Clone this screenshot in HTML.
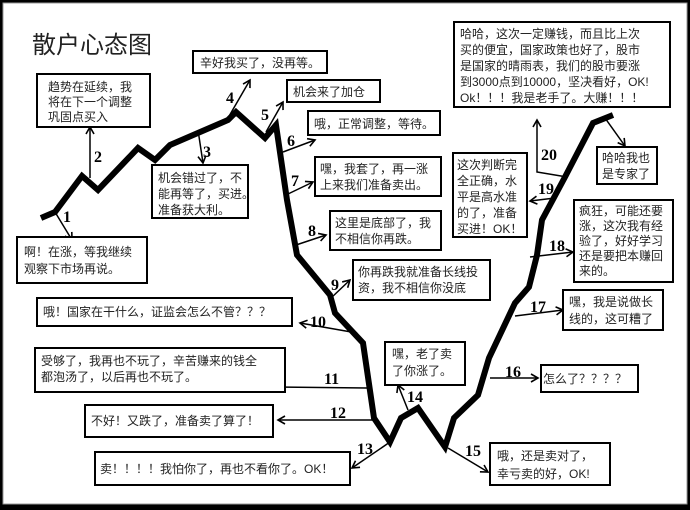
<!DOCTYPE html>
<html><head><meta charset="utf-8"><style>
html,body{margin:0;padding:0;background:#000;}
svg{display:block;}
.t{font-family:"Liberation Sans","WenQuanYi Zen Hei","Noto Sans CJK SC",sans-serif;font-size:12px;fill:#222;}
.n{font-family:"Liberation Serif",serif;font-weight:bold;font-size:16px;fill:#000;}
.b{fill:#fff;stroke:#000;stroke-width:2;}
.a{stroke:#000;stroke-width:1.5;fill:none;marker-end:url(#ar);}
</style></head><body>
<svg width="690" height="510" viewBox="0 0 690 510" xmlns="http://www.w3.org/2000/svg">
<defs><marker id="ar" markerWidth="10" markerHeight="10" refX="8" refY="5" orient="auto" markerUnits="userSpaceOnUse"><path d="M1,1 L8,5 L1,9" fill="none" stroke="#000" stroke-width="1.6"/></marker></defs>
<rect x="0" y="0" width="690" height="510" fill="#000"/>
<rect x="3" y="3" width="684" height="501" fill="#fff" stroke="#999" stroke-width="1"/>
<text x="32" y="53" style="font-family:'WenQuanYi Zen Hei','Noto Sans CJK SC',sans-serif;font-size:24px;fill:#222">散户心态图</text>
<polyline fill="none" stroke="#000" stroke-width="6" stroke-linejoin="miter" points="41,218 55,212 82,176 98,190 138,148 155,160 170,145 228,120 236,112 265,138 276,125 287,200 297,255 330,295 335,313 363,343 374,418 390,442 401,418 418,408 445,447 454,418 478,395 489,358 515,303 529,287 537,255 542,220 565,177 593,123 613,115"/>
<line class="a" x1="55" y1="212" x2="72" y2="240"/>
<line class="a" x1="90" y1="178" x2="90" y2="127"/>
<line class="a" x1="198" y1="130" x2="203" y2="163"/>
<line class="a" x1="228" y1="118" x2="250" y2="80"/>
<line class="a" x1="266" y1="132" x2="283" y2="102"/>
<line class="a" x1="283" y1="152" x2="315" y2="140"/>
<line class="a" x1="288" y1="194" x2="313" y2="182"/>
<line class="a" x1="296" y1="245" x2="326" y2="235"/>
<line class="a" x1="331" y1="298" x2="350" y2="280"/>
<line class="a" x1="357" y1="333" x2="300" y2="323"/>
<line class="a" x1="367" y1="388" x2="275" y2="387"/>
<line class="a" x1="373" y1="420" x2="278" y2="420"/>
<line class="a" x1="390" y1="442" x2="352" y2="468"/>
<line class="a" x1="408" y1="410" x2="398" y2="385"/>
<line class="a" x1="448" y1="448" x2="488" y2="472"/>
<line class="a" x1="490" y1="378" x2="538" y2="378"/>
<line class="a" x1="515" y1="316" x2="563" y2="310"/>
<line class="a" x1="530" y1="257" x2="573" y2="252"/>
<line class="a" x1="555" y1="198" x2="530" y2="201"/>
<polyline class="a" points="567,177 537,172 537,120"/>
<line class="a" x1="605" y1="118" x2="625" y2="146"/>
<text class="n" x="63" y="222">1</text>
<text class="n" x="94" y="162">2</text>
<text class="n" x="203" y="157">3</text>
<text class="n" x="226" y="103">4</text>
<text class="n" x="261" y="120">5</text>
<text class="n" x="287" y="146">6</text>
<text class="n" x="291" y="186">7</text>
<text class="n" x="308" y="236">8</text>
<text class="n" x="331" y="290">9</text>
<text class="n" x="310" y="327">10</text>
<text class="n" x="324" y="384">11</text>
<text class="n" x="330" y="418">12</text>
<text class="n" x="357" y="454">13</text>
<text class="n" x="407" y="402">14</text>
<text class="n" x="465" y="456">15</text>
<text class="n" x="505" y="377">16</text>
<text class="n" x="530" y="312">17</text>
<text class="n" x="549" y="251">18</text>
<text class="n" x="538" y="194">19</text>
<text class="n" x="541" y="160">20</text>
<rect class="b" x="17" y="237" width="130" height="46"/>
<text class="t" x="24" y="256">啊！在涨，等我继续</text><text class="t" x="24" y="273">观察下市场再说。</text>
<rect class="b" x="37" y="74" width="113" height="53"/>
<text class="t" x="48" y="91">趋势在延续，我</text><text class="t" x="48" y="106">将在下一个调整</text><text class="t" x="48" y="121">巩固点买入</text>
<rect class="b" x="152" y="165" width="96" height="53"/>
<text class="t" x="158" y="182">机会错过了，不</text><text class="t" x="158" y="198">能再等了，买进。</text><text class="t" x="158" y="214">准备获大利。</text>
<rect class="b" x="193" y="51" width="134" height="22"/>
<text class="t" x="200" y="67">辛好我买了，没再等。</text>
<rect class="b" x="287" y="80" width="93" height="22"/>
<text class="t" x="293" y="96">机会来了加仓</text>
<rect class="b" x="308" y="111" width="132" height="24"/>
<text class="t" x="314" y="128">哦，正常调整，等待。</text>
<rect class="b" x="315" y="157" width="126" height="39"/>
<text class="t" x="320" y="173">嘿，我套了，再一涨</text><text class="t" x="320" y="189">上来我们准备卖出。</text>
<rect class="b" x="330" y="211" width="111" height="39"/>
<text class="t" x="335" y="227">这里是底部了，我</text><text class="t" x="335" y="243">不相信你再跌。</text>
<rect class="b" x="353" y="260" width="137" height="40"/>
<text class="t" x="358" y="276">你再跌我就准备长线投</text><text class="t" x="358" y="292">资，我不相信你没底</text>
<rect class="b" x="37" y="298" width="255" height="28"/>
<text class="t" x="43" y="316">哦！国家在干什么，证监会怎么不管？？？</text>
<rect class="b" x="35" y="348" width="250" height="44"/>
<text class="t" x="41" y="365">受够了，我再也不玩了，辛苦赚来的钱全</text><text class="t" x="41" y="381">都泡汤了，以后再也不玩了。</text>
<rect class="b" x="85" y="405" width="188" height="32"/>
<text class="t" x="91" y="425">不好！又跌了，准备卖了算了！</text>
<rect class="b" x="95" y="452" width="255" height="33"/>
<text class="t" x="100" y="473">卖！！！！我怕你了，再也不看你了。OK！</text>
<rect class="b" x="385" y="342" width="80" height="43"/>
<text class="t" x="392" y="358">嘿，老了卖</text><text class="t" x="392" y="375">了你涨了。</text>
<rect class="b" x="490" y="443" width="120" height="42"/>
<text class="t" x="497" y="460">哦，还是卖对了，</text><text class="t" x="497" y="478">幸亏卖的好，OK!</text>
<rect class="b" x="541" y="365" width="97" height="27"/>
<text class="t" x="543" y="383">怎么了？？？？</text>
<rect class="b" x="563" y="290" width="100" height="40"/>
<text class="t" x="569" y="306">嘿，我是说做长</text><text class="t" x="569" y="323">线的，这可糟了</text>
<rect class="b" x="574" y="200" width="99" height="82"/>
<text class="t" x="579" y="215">疯狂，可能还要</text><text class="t" x="579" y="230">涨，这次我有经</text><text class="t" x="579" y="245">验了，好好学习</text><text class="t" x="579" y="260">还是要把本赚回</text><text class="t" x="579" y="275">来的。</text>
<rect class="b" x="453" y="153" width="74" height="84"/>
<text class="t" x="457" y="169">这次判断完</text><text class="t" x="457" y="185">全正确，水</text><text class="t" x="457" y="201">平是高水准</text><text class="t" x="457" y="217">的了，准备</text><text class="t" x="457" y="233">买进！OK！</text>
<rect class="b" x="454" y="22" width="216" height="85"/>
<text class="t" x="460" y="38">哈哈，这次一定赚钱，而且比上次</text><text class="t" x="460" y="54">买的便宜，国家政策也好了，股市</text><text class="t" x="460" y="70">是国家的晴雨表，我们的股市要涨</text><text class="t" x="460" y="86">到3000点到10000，坚决看好，OK!</text><text class="t" x="460" y="102">Ok！！！我是老手了。大赚！！！</text>
<rect class="b" x="597" y="147" width="60" height="37"/>
<text class="t" x="602" y="162">哈哈我也</text><text class="t" x="602" y="178">是专家了</text>
</svg>
</body></html>
